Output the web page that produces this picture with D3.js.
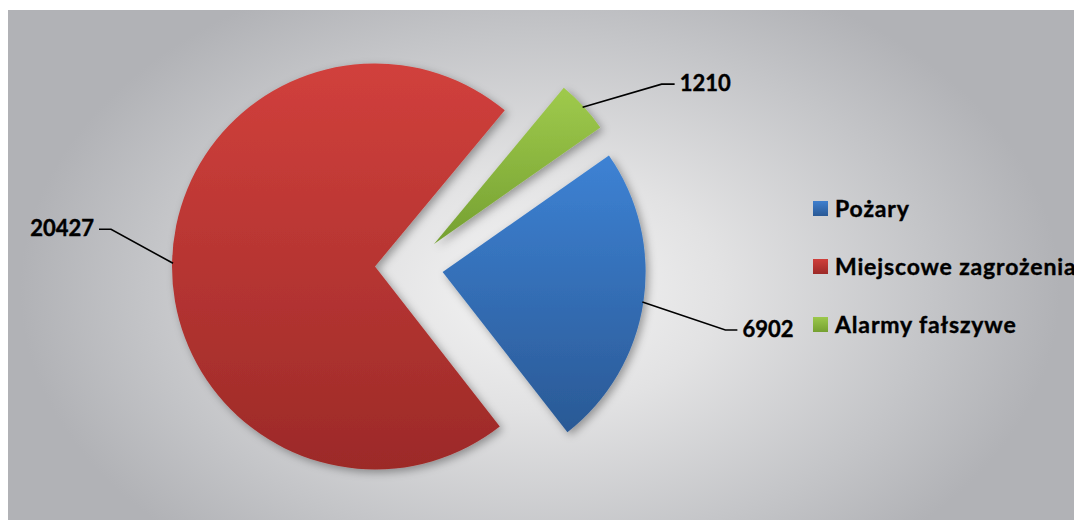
<!DOCTYPE html>
<html><head><meta charset="utf-8">
<script src="https://cdn.jsdelivr.net/npm/d3@7"></script>
<style>html,body{margin:0;padding:0;background:#fff;}svg{display:block;}</style>
</head><body>
<svg id="chart" width="1074" height="520"></svg>
<script>
const categories = ["Pożary", "Miejscowe zagrożenia", "Alarmy fałszywe"];
const values = [6902, 20427, 1210];
const colorsTop = ["#3d82d4", "#d1403c", "#9fca4c"];
const colorsBottom = ["#2a5995", "#9c2a28", "#75a031"];
const legendColorsTop = ["#3f7fcf", "#d03f3b", "#9cc84c"];
// leader elbow offsets (px) relative to the slice's outer mid point
const leaderElbow = [[83, 28], [-62, -34], [79, -23]];
const leaderTail = [12, -12, 13];

const W = 1074, H = 520;
const svg = d3.select("#chart");
const defs = svg.append("defs");

// background
const bg = defs.append("radialGradient").attr("id", "bgGrad")
  .attr("gradientUnits", "userSpaceOnUse")
  .attr("cx", 540).attr("cy", 290).attr("r", 520)
  .attr("gradientTransform", "translate(540,290) scale(1,0.66) translate(-540,-290)");
bg.append("stop").attr("offset", 0).attr("stop-color", "#f5f5f5");
bg.append("stop").attr("offset", 0.35).attr("stop-color", "#e2e2e3");
bg.append("stop").attr("offset", 0.75).attr("stop-color", "#c4c5c8");
bg.append("stop").attr("offset", 1).attr("stop-color", "#b1b2b6");
svg.append("rect").attr("x", 8).attr("y", 10).attr("width", W - 8).attr("height", H - 10)
  .attr("fill", "url(#bgGrad)");

// slice gradients
values.forEach((v, i) => {
  const g = defs.append("linearGradient").attr("id", "sg" + i)
    .attr("x1", 0).attr("y1", 0).attr("x2", 0).attr("y2", 1);
  g.append("stop").attr("offset", 0).attr("stop-color", colorsTop[i]);
  g.append("stop").attr("offset", 1).attr("stop-color", colorsBottom[i]);
  const lg = defs.append("linearGradient").attr("id", "lg" + i)
    .attr("x1", 0).attr("y1", 0).attr("x2", 0).attr("y2", 1);
  lg.append("stop").attr("offset", 0).attr("stop-color", legendColorsTop[i]);
  lg.append("stop").attr("offset", 1).attr("stop-color", colorsBottom[i]);
});

const shadow = defs.append("filter").attr("id", "shadow")
  .attr("x", "-20%").attr("y", "-20%").attr("width", "140%").attr("height", "140%");
shadow.append("feDropShadow").attr("dx", 3).attr("dy", 3).attr("stdDeviation", 4)
  .attr("flood-color", "#000").attr("flood-opacity", 0.35);

const cx = 409, cy = 267, R = 203, explode = 34;
const startDeg = 55;
const pie = d3.pie().sort(null)
  .startAngle(startDeg * Math.PI / 180)
  .endAngle((startDeg + 360) * Math.PI / 180);
const arcs = pie(values);
const arc = d3.arc().innerRadius(0).outerRadius(R);

const g = svg.append("g").attr("transform", `translate(${cx},${cy})`);
arcs.forEach((a, i) => {
  const mid = (a.startAngle + a.endAngle) / 2;
  a.ox = Math.sin(mid) * explode; a.oy = -Math.cos(mid) * explode; a.mid = mid;
});

g.selectAll("path.slice").data(arcs).enter().append("path")
  .attr("class", "slice")
  .attr("transform", d => `translate(${d.ox},${d.oy})`)
  .attr("d", arc)
  .attr("fill", (d, i) => `url(#sg${i})`)
  .attr("filter", "url(#shadow)");

// labels with leader lines
const font = "Lato, 'Open Sans', sans-serif";
arcs.forEach((a, i) => {
  const px = a.ox + Math.sin(a.mid) * (R - 1);
  const py = a.oy - Math.cos(a.mid) * (R - 1);
  const ex = px + leaderElbow[i][0], ey = py + leaderElbow[i][1];
  const tx = ex + leaderTail[i];
  g.append("path")
    .attr("d", `M${px},${py}L${ex},${ey}L${tx},${ey}`)
    .attr("fill", "none").attr("stroke", "#000").attr("stroke-width", 1.6);
  g.append("text")
    .attr("x", tx + (leaderTail[i] > 0 ? 5 : -5))
    .attr("y", ey)
    .attr("dy", "0.32em")
    .attr("text-anchor", leaderTail[i] > 0 ? "start" : "end")
    .attr("font-family", font).attr("font-weight", "bold").attr("font-size", 22)
    .attr("fill", "#000").attr("stroke", "#000").attr("stroke-width", 0.4)
    .text(values[i]);
});

// legend
const legendY = d3.scalePoint().domain(categories).range([209, 325]);
const leg = svg.append("g");
categories.forEach((c, i) => {
  const y = legendY(c);
  leg.append("rect").attr("x", 813).attr("y", y - 8).attr("width", 15).attr("height", 15)
    .attr("fill", `url(#lg${i})`);
  leg.append("text").attr("x", 835).attr("y", y).attr("dy", "0.36em")
    .attr("font-family", font).attr("font-weight", "bold").attr("font-size", 23)
    .attr("letter-spacing", "0.85px")
    .attr("fill", "#000").attr("stroke", "#000").attr("stroke-width", 0.4)
    .text(c);
});
</script>
</body></html>
